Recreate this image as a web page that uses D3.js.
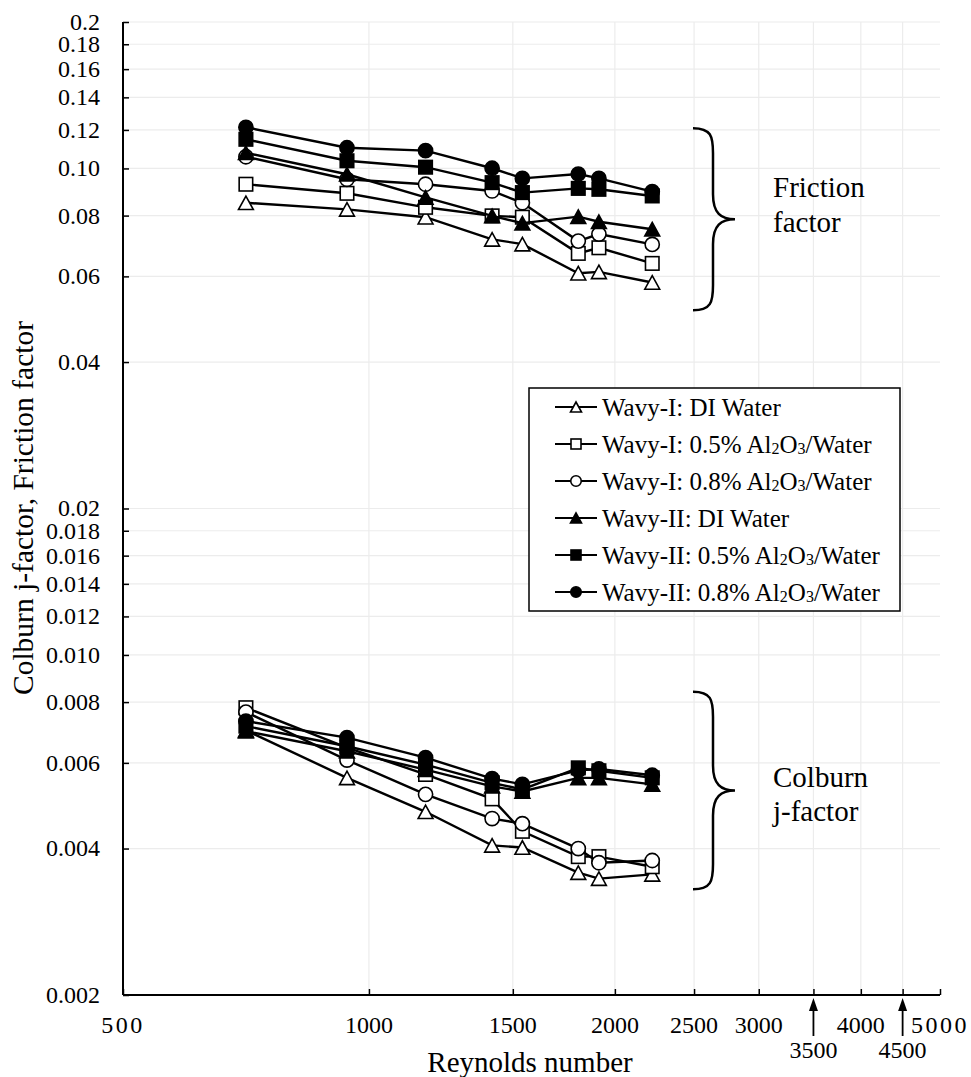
<!DOCTYPE html>
<html>
<head>
<meta charset="utf-8">
<script src="https://cdn.jsdelivr.net/npm/d3@7"></script>
<style>
body { margin: 0; background: #fff; }
text { font-family: "Liberation Serif", "Times New Roman", serif; fill: #000; }
</style>
</head>
<body>
<div id="dataviz"></div>
<script>
// data
var reynolds = [707, 940, 1173, 1415, 1541, 1804, 1912, 2222];

var seriesNames = [
    "Wavy-I: DI Water",
    "Wavy-I: 0.5% Al_2O_3/Water",
    "Wavy-I: 0.8% Al_2O_3/Water",
    "Wavy-II: DI Water",
    "Wavy-II: 0.5% Al_2O_3/Water",
    "Wavy-II: 0.8% Al_2O_3/Water"
];
var seriesShapes = ["triangle", "square", "circle", "triangle", "square", "circle"];
var seriesFilled = [false, false, false, true, true, true];

var frictionI_DI = [0.0850, 0.0824, 0.0794, 0.0715, 0.0699, 0.0609, 0.0613, 0.0583];
var frictionI_05 = [0.0928, 0.0889, 0.0832, 0.0799, 0.0794, 0.0669, 0.0687, 0.0638];
var frictionI_08 = [0.1057, 0.0950, 0.0928, 0.0899, 0.0850, 0.0709, 0.0733, 0.0698];
var frictionII_DI = [0.1077, 0.0973, 0.0872, 0.0799, 0.0772, 0.0796, 0.0777, 0.0750];
var frictionII_05 = [0.1148, 0.1037, 0.1006, 0.0935, 0.0892, 0.0910, 0.0906, 0.0878];
var frictionII_08 = [0.1215, 0.1103, 0.1088, 0.1001, 0.0954, 0.0974, 0.0954, 0.0896];

var colburnI_DI = [0.00700, 0.00559, 0.00476, 0.00406, 0.00402, 0.00357, 0.00347, 0.00354];
var colburnI_05 = [0.00779, 0.00645, 0.00568, 0.00506, 0.00434, 0.00385, 0.00385, 0.00367];
var colburnI_08 = [0.00763, 0.00608, 0.00517, 0.00461, 0.00450, 0.00400, 0.00374, 0.00378];
var colburnII_DI = [0.00697, 0.00634, 0.00581, 0.00537, 0.00524, 0.00559, 0.00559, 0.00542];
var colburnII_05 = [0.00714, 0.00649, 0.00595, 0.00546, 0.00529, 0.00586, 0.00578, 0.00559];
var colburnII_08 = [0.00731, 0.00676, 0.00615, 0.00557, 0.00542, 0.00579, 0.00583, 0.00566];

var frictionSets = [frictionI_DI, frictionI_05, frictionI_08, frictionII_DI, frictionII_05, frictionII_08];
var colburnSets = [colburnI_DI, colburnI_05, colburnI_08, colburnII_DI, colburnII_05, colburnII_08];

var xTicks = [500, 1000, 1500, 2000, 2500, 3000, 3500, 4000, 4500, 5000];
var xArrowTicks = [3500, 4500];
var yTicks = [0.002, 0.004, 0.006, 0.008, 0.010, 0.012, 0.014, 0.016, 0.018, 0.02,
              0.04, 0.06, 0.08, 0.10, 0.12, 0.14, 0.16, 0.18, 0.2];
var yTickLabels = ["0.002", "0.004", "0.006", "0.008", "0.010", "0.012", "0.014", "0.016", "0.018", "0.02",
                   "0.04", "0.06", "0.08", "0.10", "0.12", "0.14", "0.16", "0.18", "0.2"];

var widthFull = 971, heightFull = 1077;
var plotLeft = 123, plotRight = 940, plotTop = 22, plotBottom = 995;

var svg = d3.select("#dataviz").append("svg")
    .attr("width", widthFull)
    .attr("height", heightFull);

var x = d3.scaleLog().domain([500, 5000]).range([plotLeft, plotRight]);
var y = d3.scaleLog().domain([0.002, 0.2]).range([plotBottom, plotTop]);

// grid
svg.append("g").selectAll("line").data(yTicks.slice(1)).enter().append("line")
    .attr("x1", plotLeft).attr("x2", plotRight)
    .attr("y1", d => y(d)).attr("y2", d => y(d))
    .attr("stroke", "#ececec").attr("stroke-width", 1.2);
svg.append("g").selectAll("line").data(xTicks.slice(1, -1)).enter().append("line")
    .attr("x1", d => x(d)).attr("x2", d => x(d))
    .attr("y1", plotTop).attr("y2", plotBottom)
    .attr("stroke", "#ececec").attr("stroke-width", 1.2);

// y axis, ticks inside
var yAxis = svg.append("g")
    .attr("transform", "translate(" + plotLeft + ",0)")
    .call(d3.axisRight(y).tickValues(yTicks).tickSize(6).tickFormat(""));
yAxis.select(".domain").attr("stroke-width", 2).attr("d", "M0," + plotTop + "V" + plotBottom);
yAxis.selectAll(".tick line").attr("stroke-width", 1.5);
svg.append("g").selectAll("text").data(yTicks).enter().append("text")
    .attr("x", 100)
    .attr("y", d => y(d))
    .attr("dy", "0.33em")
    .attr("text-anchor", "end")
    .style("font-size", "24px")
    .text((d, i) => yTickLabels[i]);

// x axis, ticks inside
var xAxis = svg.append("g")
    .attr("transform", "translate(0," + plotBottom + ")")
    .call(d3.axisTop(x).tickValues(xTicks).tickSize(6).tickFormat(""));
xAxis.select(".domain").attr("stroke-width", 2).attr("d", "M" + plotLeft + ",0H" + plotRight);
xAxis.selectAll(".tick line").attr("stroke-width", 1.5);

svg.append("g").selectAll("text")
    .data(xTicks.filter(d => xArrowTicks.indexOf(d) < 0)).enter().append("text")
    .attr("x", d => x(d))
    .attr("y", 1033)
    .attr("text-anchor", "middle")
    .style("font-size", "24px")
    .style("letter-spacing", d => (d === 500 || d === 5000) ? "2.5px" : "0px")
    .text(d => d);

// arrow ticks below axis
var arrows = svg.append("g").selectAll("g").data(xArrowTicks).enter().append("g")
    .attr("transform", d => "translate(" + x(d) + ",0)");
arrows.append("line")
    .attr("x1", 0).attr("x2", 0).attr("y1", 1008).attr("y2", 1036)
    .attr("stroke", "#000").attr("stroke-width", 1.8);
arrows.append("path")
    .attr("d", "M0,998 L-4.5,1011 L4.5,1011 Z")
    .attr("fill", "#000");
arrows.append("text")
    .attr("x", 0).attr("y", 1058)
    .attr("text-anchor", "middle")
    .style("font-size", "24px")
    .text(d => d);

// axis titles
svg.append("text")
    .attr("x", 530).attr("y", 1072)
    .attr("text-anchor", "middle")
    .style("font-size", "29px")
    .text("Reynolds number");
svg.append("text")
    .attr("transform", "translate(33,508) rotate(-90)")
    .attr("text-anchor", "middle")
    .style("font-size", "29.5px")
    .text("Colburn j-factor, Friction factor");

// markers
function marker(sel, shape, filled, s) {
    var h = s / 2;
    if (shape === "circle") {
        sel.append("circle").attr("r", h * 1.05);
    } else if (shape === "square") {
        sel.append("rect").attr("x", -h).attr("y", -h).attr("width", s).attr("height", s);
    } else {
        sel.append("path").attr("d", "M0," + (-h) + "L" + (h * 1.1) + "," + h + "L" + (-h * 1.1) + "," + h + "Z");
    }
    sel.selectAll("circle,rect,path")
        .attr("fill", filled ? "#000" : "#fff")
        .attr("stroke", "#000")
        .attr("stroke-width", 1.6);
}

var line = d3.line().x(d => x(d.re)).y(d => y(d.v));

function trace(sets) {
    sets.forEach(function(vals, i) {
        var data = reynolds.map((re, k) => ({ re: re, v: vals[k] }));
        var g = svg.append("g");
        g.append("path")
            .datum(data)
            .attr("d", line)
            .attr("fill", "none")
            .attr("stroke", "#000")
            .attr("stroke-width", 2.4);
        g.selectAll("g.pt").data(data).enter().append("g")
            .attr("class", "pt")
            .attr("transform", d => "translate(" + x(d.re) + "," + y(d.v) + ")")
            .each(function() { marker(d3.select(this), seriesShapes[i], seriesFilled[i], 13.5); });
    });
}
trace(frictionSets);
trace(colburnSets);

// braces
function brace(y0, y1, xs) {
    var ym = (y0 + y1) / 2;
    var p = "M" + (xs - 20) + "," + y0 +
        " C" + (xs - 2) + "," + y0 + " " + xs + "," + (y0 + 8) + " " + xs + "," + (y0 + 25) +
        " L" + xs + "," + (ym - 25) +
        " C" + xs + "," + (ym - 6) + " " + (xs + 8) + "," + ym + " " + (xs + 22) + "," + ym +
        " C" + (xs + 8) + "," + ym + " " + xs + "," + (ym + 6) + " " + xs + "," + (ym + 25) +
        " L" + xs + "," + (y1 - 25) +
        " C" + xs + "," + (y1 - 8) + " " + (xs - 2) + "," + y1 + " " + (xs - 20) + "," + y1;
    svg.append("path").attr("d", p)
        .attr("fill", "none").attr("stroke", "#000").attr("stroke-width", 2.5);
}
brace(y(0.121), y(0.0511), 713);
brace(y(0.0084), y(0.0033), 713);

svg.append("text").attr("x", 773).attr("y", 197).style("font-size", "29px").text("Friction");
svg.append("text").attr("x", 773).attr("y", 232).style("font-size", "29px").text("factor");
svg.append("text").attr("x", 773).attr("y", 787).style("font-size", "29px").text("Colburn");
svg.append("text").attr("x", 773).attr("y", 821).style("font-size", "29px").text("j-factor");

// legend
var legend = svg.append("g").attr("transform", "translate(529,388)");
legend.append("rect")
    .attr("width", 371).attr("height", 223)
    .attr("fill", "#fff").attr("stroke", "#000").attr("stroke-width", 1.5);
var rows = legend.selectAll("g.row").data(seriesNames).enter().append("g")
    .attr("class", "row")
    .attr("transform", (d, i) => "translate(0," + (19 + i * 37) + ")");
rows.append("line")
    .attr("x1", 26).attr("x2", 68)
    .attr("stroke", "#000").attr("stroke-width", 2);
rows.append("g")
    .attr("transform", "translate(47,0)")
    .each(function(d, i) { marker(d3.select(this), seriesShapes[i], seriesFilled[i], 10); });
rows.append("text")
    .attr("x", 73).attr("y", 8.5)
    .style("font-size", "25px")
    .each(function(d) {
        var t = d3.select(this);
        d.split(/_(\d)/).forEach(function(part, k) {
            if (k % 2 === 1) {
                t.append("tspan").style("font-size", "16px").attr("dy", 1).text(part);
            } else if (k > 0) {
                t.append("tspan").attr("dy", -1).text(part);
            } else {
                t.append("tspan").text(part);
            }
        });
    });
</script>
</body>
</html>
